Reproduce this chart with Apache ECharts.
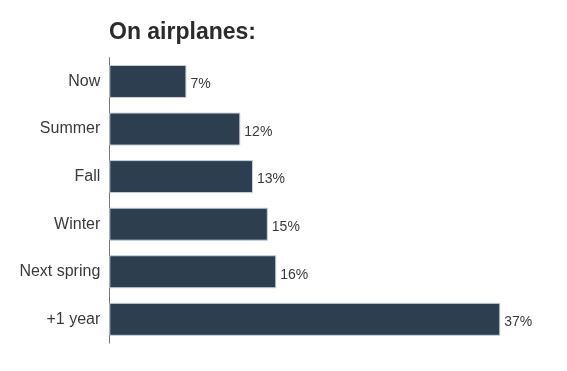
<!DOCTYPE html>
<html><head><meta charset="utf-8">
<script src="https://cdn.jsdelivr.net/npm/echarts@6/dist/echarts.min.js"></script>
<style>html,body{margin:0;padding:0;background:#fff}#c{width:567px;height:371px}</style>
</head><body><div id="c"></div>
<script>
var categories = ['Now', 'Summer', 'Fall', 'Winter', 'Next spring', '+1 year'];
var values = [7.3, 12.4, 13.6, 15.0, 15.8, 37.0];
var valueLabels = ['7%', '12%', '13%', '15%', '16%', '37%'];
var titleText = 'On airplanes:';

var chart = echarts.init(document.getElementById('c'), null, {renderer: 'canvas'});
chart.setOption({
  animation: false,
  backgroundColor: '#ffffff',
  title: {
    text: titleText, left: 109, top: 21, padding: 0,
    textStyle: {fontFamily: '"Liberation Sans", Arial, sans-serif', fontWeight: 'bold', fontSize: 23, color: '#2b2b2b'}
  },
  grid: {left: 109.3, right: 35, top: 57.7, bottom: 27.9, containLabel: false},
  xAxis: {
    type: 'value', min: 0, max: 40,
    show: false
  },
  yAxis: {
    type: 'category', inverse: true, data: categories,
    axisLine: {show: true, lineStyle: {color: '#777', width: 1}},
    axisTick: {show: false},
    axisLabel: {margin: 9, fontSize: 16, color: '#3a3a3a', fontFamily: '"Liberation Sans", Arial, sans-serif'}
  },
  series: [{
    type: 'bar', data: values, barWidth: 33,
    itemStyle: {color: '#2c3e50', borderColor: '#c9d0d7', borderWidth: 1},
    label: {
      show: true, position: 'right', distance: 4, offset: [0, 3],
      fontSize: 14, color: '#3a3a3a', fontFamily: '"Liberation Sans", Arial, sans-serif',
      formatter: function (p) { return valueLabels[p.dataIndex]; }
    }
  }]
});
</script></body></html>
